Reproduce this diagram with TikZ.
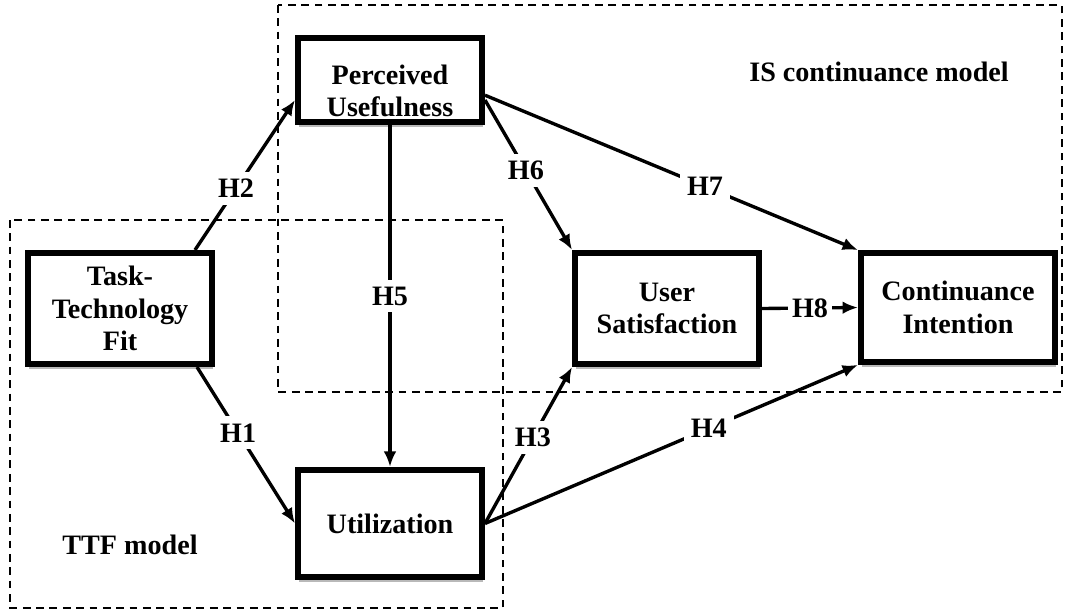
\documentclass[tikz,border=0pt]{standalone}
\usepackage{fontspec}
\setmainfont{Liberation Serif}
\usetikzlibrary{arrows.meta,shadows}

\tikzset{
  construct/.style={draw=black, line width=4.2pt, fill=white, align=center,
    inner sep=2pt, font=\bfseries\fontsize{20}{23}\selectfont,
    drop shadow={shadow xshift=0.6pt, shadow yshift=-3.6pt, fill=gray!55, opacity=1}},
  path/.style={line width=2.4pt, -{Latex[length=11pt,width=9pt]}},
  hyp/.style={fill=white, inner sep=5pt, font=\bfseries\fontsize{20}{23}\selectfont},
  modelbox/.style={dashed, line width=1.1pt, dash pattern=on 5.5pt off 4pt},
  modeltext/.style={font=\bfseries\fontsize{20}{23}\selectfont}
}

\begin{document}
\begin{tikzpicture}[x=0.025cm, y=-0.025cm]
  \useasboundingbox (0,0) rectangle (1065,612);

  % model frames
  \draw [modelbox] (278,5) rectangle (1062,392);
  \draw [modelbox] (10,220) rectangle (503,608);
  \node [modeltext] (ismodel) at (879,72) {IS continuance model};
  \node [modeltext] (ttfmodel) at (130,545) {TTF model};

  % constructs
  \node [construct, minimum width=4.6cm, minimum height=2.1cm] (pu) at (390,80)
    {\raisebox{-15pt}[0pt][0pt]{\begin{tabular}{@{}c@{}}Perceived\\Usefulness\end{tabular}}};
  \node [construct, minimum width=4.6cm, minimum height=2.78cm] (ttf) at (120,308.5) {Task-\\Technology\\Fit};
  \node [construct, minimum width=4.6cm, minimum height=2.78cm] (us) at (667,308.5) {User\\Satisfaction};
  \node [construct, minimum width=4.85cm, minimum height=2.72cm] (ci) at (958,307.5) {Continuance\\Intention};
  \node [construct, minimum width=4.6cm, minimum height=2.68cm] (util) at (390,523.5) {Utilization};

  % hypotheses
  \draw [path] ([xshift=1.875cm]ttf.north) -- node [hyp, pos=0.41] {H2} ([yshift=-0.5cm]pu.west);
  \draw [path] ([xshift=1.925cm]ttf.south) -- node [hyp, pos=0.42] {H1} (util.west);
  \draw [path] (pu.south) -- node [hyp, pos=0.5] {H5} (util.north);
  \draw [path] ([yshift=-0.5cm]pu.east) -- node [hyp, pos=0.47] {H6} (us.north west);
  \draw [path] ([yshift=-0.38cm]pu.east) -- node [hyp, pos=0.59] {H7} (ci.north west);
  \draw [path] (util.east) -- node [hyp, pos=0.55] {H3} (us.south west);
  \draw [path] (util.east) -- node [hyp, pos=0.6] {H4} (ci.south west);
  \draw [path] (us.east) -- node [hyp, inner sep=3pt] {H8} (ci.west);
\end{tikzpicture}
\end{document}
